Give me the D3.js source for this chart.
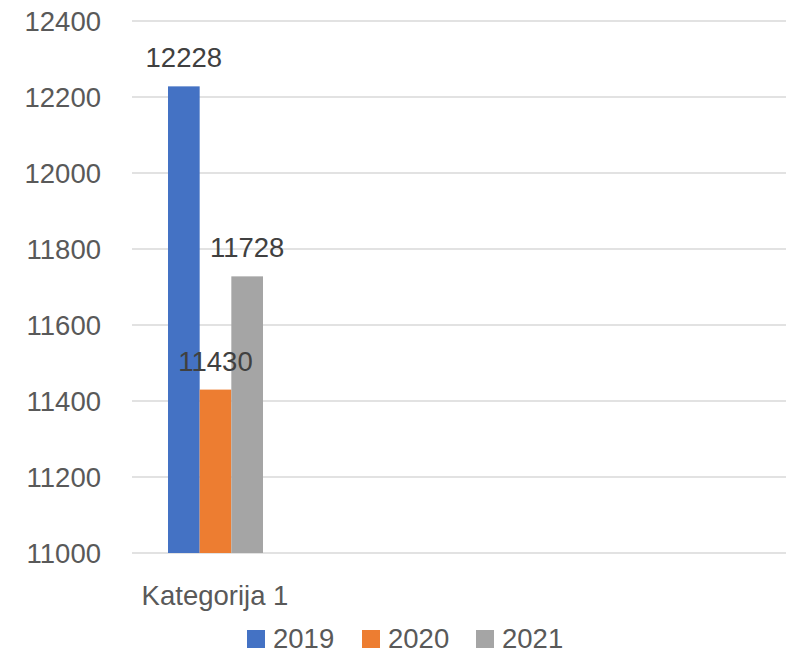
<!DOCTYPE html>
<html>
  <head>
    <meta charset="UTF-8">
    <title>Kategorija 1</title>
    <script src="https://d3js.org/d3.v7.min.js"></script>
    <style>
      body { margin: 0; background: #fff; }
      text { font-family: "Liberation Sans", Arial, sans-serif; }
    </style>
  </head>
  <body>
    <div id="chart"></div>
    <script>
      // data
      const categories = ["Kategorija 1", "", "", ""];
      const seriesNames = ["2019", "2020", "2021"];
      const values2019 = [12228];
      const values2020 = [11430];
      const values2021 = [11728];
      const yTicks = [11000, 11200, 11400, 11600, 11800, 12000, 12200, 12400];
      const colors = ["#4472c4", "#ed7d31", "#a5a5a5"];

      const width = 787;
      const height = 653;
      const margin = { top: 21, right: 1, bottom: 100, left: 132 };

      const svg = d3.select("#chart")
        .append("svg")
        .attr("width", width)
        .attr("height", height);

      const x = d3.scaleBand()
        .domain(d3.range(categories.length))
        .range([margin.left, width - margin.right]);

      const y = d3.scaleLinear()
        .domain([11000, 12400])
        .range([height - margin.bottom, margin.top]);

      // gridlines
      svg.selectAll(".grid")
        .data(yTicks)
        .enter()
        .append("line")
        .attr("x1", margin.left)
        .attr("x2", width - margin.right)
        .attr("y1", d => y(d))
        .attr("y2", d => y(d))
        .attr("stroke", "#d9d9d9")
        .attr("stroke-width", 1.5);

      // y tick labels
      svg.selectAll(".ylab")
        .data(yTicks)
        .enter()
        .append("text")
        .attr("x", 101)
        .attr("y", d => y(d) + 10)
        .attr("text-anchor", "end")
        .attr("font-size", 27.5)
        .attr("fill", "#595959")
        .text(d => d);

      // bars inside the first category band
      const series = [values2019, values2020, values2021];
      const inner = d3.scaleBand()
        .domain(seriesNames)
        .range([36, 36 + 95]);

      const rows = [];
      series.forEach((vals, s) => {
        vals.forEach((v, i) => rows.push({ cat: i, name: seriesNames[s], value: v, color: colors[s] }));
      });

      svg.selectAll(".bar")
        .data(rows)
        .enter()
        .append("rect")
        .attr("class", "bar")
        .attr("x", d => x(d.cat) + inner(d.name))
        .attr("y", d => y(d.value))
        .attr("width", inner.bandwidth())
        .attr("height", d => y(11000) - y(d.value))
        .attr("fill", d => d.color);

      // data labels
      svg.selectAll(".val")
        .data(rows)
        .enter()
        .append("text")
        .attr("x", d => x(d.cat) + inner(d.name) + inner.bandwidth() / 2)
        .attr("y", d => y(d.value) - 19)
        .attr("text-anchor", "middle")
        .attr("font-size", 27.5)
        .attr("fill", "#404040")
        .text(d => d.value);

      // category labels
      svg.selectAll(".cat")
        .data(categories)
        .enter()
        .append("text")
        .attr("x", (d, i) => x(i) + 83)
        .attr("y", 605)
        .attr("text-anchor", "middle")
        .attr("font-size", 27.5)
        .attr("fill", "#595959")
        .text(d => d);

      // legend
      const legendX = [247, 362, 476];
      const legend = svg.selectAll(".legend")
        .data(seriesNames)
        .enter()
        .append("g")
        .attr("transform", (d, i) => `translate(${legendX[i]},630)`);
      legend.append("rect")
        .attr("width", 18)
        .attr("height", 18)
        .attr("fill", (d, i) => colors[i]);
      legend.append("text")
        .attr("x", 26)
        .attr("y", 18)
        .attr("font-size", 27.5)
        .attr("fill", "#595959")
        .text(d => d);
    </script>
  </body>
</html>
